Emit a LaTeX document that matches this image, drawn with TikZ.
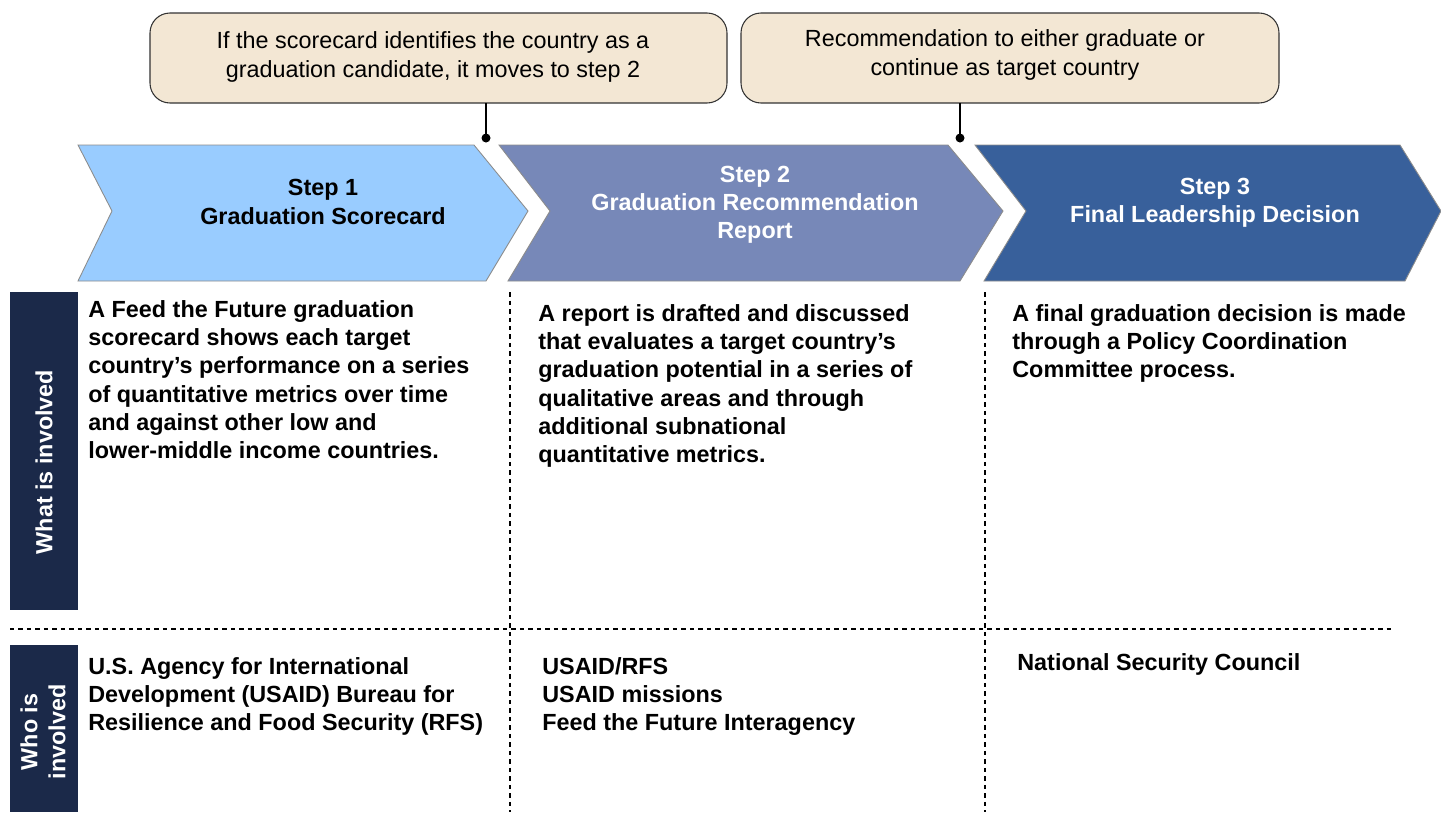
\documentclass[tikz,border=0pt]{standalone}
\usepackage{fontspec}
\setmainfont{Liberation Sans}
\definecolor{callfill}{HTML}{F3E7D4}
\definecolor{chevA}{HTML}{99CCFF}
\definecolor{chevB}{HTML}{7788B8}
\definecolor{chevC}{HTML}{38609B}
\definecolor{navy}{HTML}{1B2949}
\tikzset{
  callout/.style={draw=black!80, fill=callfill, rounded corners=0.4cm, line width=0.6pt},
  calltext/.style={font=\fontsize{13.3pt}{16.4pt}\selectfont, align=center, inner sep=0pt},
  chevbox/.style={draw=black!45, line width=0.5pt},
  headtext/.style={font=\bfseries\fontsize{13.3pt}{16pt}\selectfont, align=center, inner sep=0pt},
  bodytext/.style={font=\bfseries\fontsize{13.3pt}{16.1pt}\selectfont, align=left, inner sep=0pt, anchor=north west},
  sidebox/.style={fill=navy},
  sidetext/.style={font=\bfseries\fontsize{13.3pt}{16pt}\selectfont, text=white, align=center, rotate=90, inner sep=0pt},
  divline/.style={dash pattern=on 0.09cm off 0.08cm, line width=0.9pt},
  conn/.style={line width=1.2pt},
}
\begin{document}
\begin{tikzpicture}[x=0.02cm, y=-0.02cm]
\useasboundingbox (0,0) rectangle (1441,812);
% callouts
\path[callout] (150,13) rectangle (727,103);
\node[calltext] (c1) at (433,57) {If the scorecard identifies the country as a\\graduation candidate, it moves to step 2};
\coordinate (c1b) at (486,103);
\path[callout] (741,13) rectangle (1279,103);
\node[calltext] (c2) at (1005,55) {Recommendation to either graduate or\\continue as target country};
\coordinate (c2b) at (960,103);
% chevrons
\path[chevbox, fill=chevA] (78,145) -- (474,145) -- (528,211) -- (486,281) -- (78,281) -- (112,211) -- cycle;
\path[chevbox, fill=chevB] (499,145) -- (948,145) -- (1003,211) -- (960,281) -- (508,281) -- (550,211) -- cycle;
\path[chevbox, fill=chevC] (975,145) -- (1400,145) -- (1441,211) -- (1405,281) -- (984,281) -- (1026,211) -- cycle;
\node[headtext] (h1) at (323,202) {Step 1\\Graduation Scorecard};
\node[headtext, text=white] (h2) at (755,205) {Step 2\\Graduation Recommendation\\Report};
\node[headtext, text=white] (h3) at (1215,203) {Step 3\\Final Leadership Decision};
% connectors
\coordinate (d1) at (486,138);
\coordinate (d2) at (960,138);
\draw[conn] (c1b) -- (d1);
\draw[conn] (c2b) -- (d2);
\fill (d1) circle[radius=0.09cm];
\fill (d2) circle[radius=0.09cm];
% side labels
\path[sidebox] (10,292) rectangle (78,610);
\node[sidetext] (s1) at (44,462) {What is involved};
\path[sidebox] (10,645) rectangle (78,812);
\node[sidetext] (s2) at (43,732) {Who is\\involved};
% dividers
\coordinate (hl) at (10,629);
\coordinate (hr) at (1395,629);
\draw[divline] (hl) -- (hr);
\coordinate (v1t) at (510,292);
\coordinate (v1b) at (510,812);
\coordinate (v2t) at (985,292);
\coordinate (v2b) at (985,812);
\draw[divline] (v1t) -- (v1b);
\draw[divline] (v2t) -- (v2b);
% body text
\node[bodytext] (w1) at (88,300) {A Feed the Future graduation\\scorecard shows each target\\country’s performance on a series\\of quantitative metrics over time\\and against other low and\\lower-middle income countries.};
\node[bodytext] (w2) at (538,304) {A report is drafted and discussed\\that evaluates a target country’s\\graduation potential in a series of\\qualitative areas and through\\additional subnational\\quantitative metrics.};
\node[bodytext] (w3) at (1012,304) {A final graduation decision is made\\through a Policy Coordination\\Committee process.};
\node[bodytext] (o1) at (88,657) {U.S. Agency for International\\Development (USAID) Bureau for\\Resilience and Food Security (RFS)};
\node[bodytext] (o2) at (542,657) {USAID/RFS\\USAID missions\\Feed the Future Interagency};
\node[bodytext] (o3) at (1017,653) {National Security Council};
\end{tikzpicture}
\end{document}
